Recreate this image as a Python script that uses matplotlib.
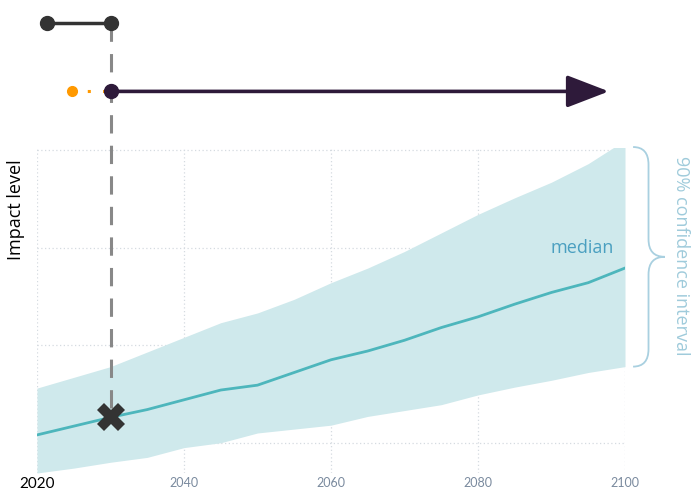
import matplotlib
matplotlib.use("Agg")
import matplotlib.pyplot as plt
from matplotlib.path import Path
from matplotlib.patches import PathPatch
import numpy as np

plt.rcParams['font.family'] = ['Lato', 'DejaVu Sans']

years = [2020, 2025, 2030, 2035, 2040, 2045, 2050, 2055, 2060, 2065, 2070, 2075, 2080, 2085, 2090, 2095, 2100]
median = [0.08, 0.17, 0.26, 0.34, 0.44, 0.54, 0.59, 0.72, 0.85, 0.94, 1.05, 1.18, 1.29, 1.42, 1.54, 1.64, 1.79]
upper = [0.56, 0.67, 0.78, 0.93, 1.08, 1.23, 1.33, 1.47, 1.64, 1.79, 1.96, 2.15, 2.34, 2.51, 2.67, 2.86, 3.10]
lower = [-0.31, -0.26, -0.20, -0.15, -0.05, 0.00, 0.10, 0.14, 0.18, 0.27, 0.33, 0.39, 0.49, 0.57, 0.64, 0.72, 0.78]
xticks = [2020, 2040, 2060, 2080, 2100]
xtick_labels = ['2020', '2040', '2060', '2080', '2100']
yticks = [0, 1, 2, 3]

marker_year = 2030
marker_value = 0.26
dumbbell_years = [2021.4, 2030]
dumbbell_level = 4.30
arrow_level = 3.60
arrow_end = 2097.8
orange_year = 2024.8

fig = plt.figure(figsize=(6.91, 4.90), dpi=100)
ax = fig.add_axes([37/691, 17/490, 588/691, 325/490])
ax.set_xlim(2020, 2100)
ax.set_ylim(-0.31, 3.02)

ax.fill_between(years, lower, upper, color='#cfe9ec', lw=0, zorder=1)
ax.plot(years, median, color='#4db6bc', lw=2, zorder=2)

ax.set_xticks(xticks)
ax.set_xticklabels(xtick_labels)
ax.set_yticks(yticks)
ax.set_yticklabels([])
ax.tick_params(axis='both', length=0)
ax.tick_params(axis='x', pad=3, labelsize=9, labelcolor='#7a8a9e')
tl = ax.get_xticklabels()
tl[0].set_color('black')
tl[0].set_fontsize(11)
for s in ax.spines.values():
    s.set_visible(False)
ax.grid(True, color='#d5dbe0', linestyle=(0, (1, 2)), lw=0.9, zorder=0)
ax.set_axisbelow(True)

ax.set_ylabel('Impact level', fontsize=13, color='black', family=['Open Sans', 'DejaVu Sans'])
ax.yaxis.set_label_coords(-0.02, 0.81)

ax.text(2098.5, 1.90, 'median', color='#4a9fc0', fontsize=13, ha='right', va='bottom',
        family=['Open Sans', 'DejaVu Sans'])

# Dashed vertical line
ax.plot([marker_year, marker_year], [dumbbell_level, marker_value + 0.1], color='#888888',
        lw=2.2, dashes=(6, 4), clip_on=False, zorder=3)
ax.plot([marker_year], [marker_value], marker='X', color='#333333', markersize=20,
        markeredgewidth=0, clip_on=False, zorder=5)

# Dumbbell
ax.plot(dumbbell_years, [dumbbell_level]*2, color='#333333', lw=2.5, marker='o',
        markersize=10, clip_on=False, zorder=4)

# Orange dotted lead-in
ax.plot([orange_year, marker_year], [arrow_level]*2, color='#ff9900', lw=2.2,
        linestyle=(0, (1, 4)), clip_on=False, zorder=3)
ax.plot([orange_year], [arrow_level], marker='o', color='#ff9900', markersize=7,
        clip_on=False, zorder=4)

# Purple arrow
ax.annotate('', xy=(arrow_end, arrow_level), xytext=(marker_year, arrow_level),
            arrowprops=dict(arrowstyle='-|>,head_length=1.3,head_width=0.5', color='#2e1a3a',
                            lw=2.6, mutation_scale=20, shrinkA=0, shrinkB=0),
            annotation_clip=False, zorder=4)
ax.plot([marker_year], [arrow_level], marker='o', color='#2e1a3a', markersize=10,
        clip_on=False, zorder=5)

# Curly brace
top = 3.03
bot = lower[-1]
mid = (top + bot) / 2
x0, x1, x2 = 2101.1, 2103.2, 2105.4
q = (top - bot) * 0.08
verts = [(x0, top), (x1, top), (x1, top - q), (x1, top - q),
         (x1, mid + q), (x1, mid + q), (x1, mid), (x2, mid),
         (x1, mid), (x1, mid - q), (x1, mid - q),
         (x1, bot + q), (x1, bot + q), (x1, bot), (x0, bot)]
codes = [Path.MOVETO, Path.CURVE3, Path.CURVE3, Path.LINETO,
         Path.LINETO, Path.LINETO, Path.CURVE3, Path.CURVE3,
         Path.CURVE3, Path.CURVE3, Path.LINETO,
         Path.LINETO, Path.LINETO, Path.CURVE3, Path.CURVE3]
brace = PathPatch(Path(verts, codes), facecolor='none', edgecolor='#a9d0e0', lw=1.3,
                  clip_on=False)
ax.add_patch(brace)

ax.text(2107.6, 1.92, '90% confidence interval', rotation=270, color='#9fcbdb',
        fontsize=13, ha='center', va='center', clip_on=False,
        family=['Open Sans', 'DejaVu Sans'])

fig.savefig('out.png', dpi=100)
